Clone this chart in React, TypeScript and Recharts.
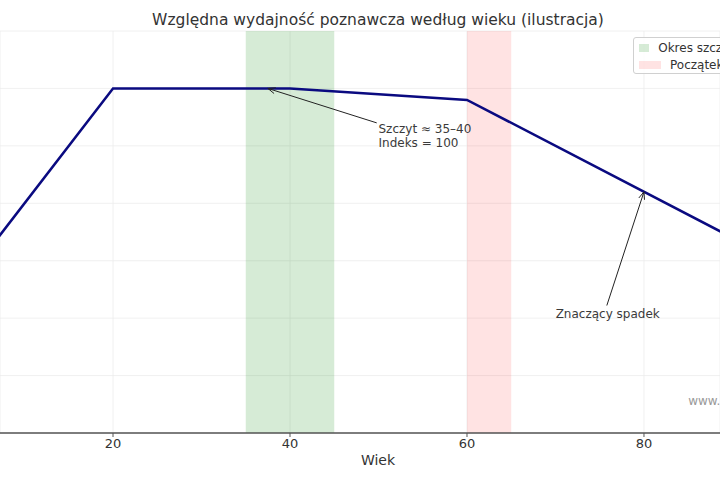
import {
  CartesianGrid,
  ComposedChart,
  Customized,
  Line,
  ReferenceArea,
  ReferenceDot,
  ReferenceLine,
  XAxis,
  YAxis,
} from "recharts";

// dane (wiek -> indeks wydajności)
const wiek = [0, 20, 40, 60, 90];
const indeks = [60, 100, 100, 98, 74];

const xTicks = [20, 40, 60, 80];
const yTicks = [40, 50, 60, 70, 80, 90, 100];

const okresSzczytu = [35, 45];
const poczatekSpadku = [60, 65];

const legendLabels = ["Okres szczytowej wydajności", "Początek spadku"];
const legendColors = ["rgba(0,128,0,0.16)", "rgba(255,0,0,0.11)"];

const data = wiek.map((w, i) => ({ wiek: w, indeks: indeks[i] }));

const FONT = "DejaVu Sans, sans-serif";

const arrowShape = (props: any) => {
  const { x1, y1, x2, y2 } = props;
  const a = Math.atan2(y2 - y1, x2 - x1);
  const len = 8;
  const spread = 0.38;
  const p1 = [x2 - len * Math.cos(a - spread), y2 - len * Math.sin(a - spread)];
  const p2 = [x2 - len * Math.cos(a + spread), y2 - len * Math.sin(a + spread)];
  return (
    <g>
      <line x1={x1} y1={y1} x2={x2} y2={y2} stroke="#222" strokeWidth={1} />
      <polyline
        points={`${p1[0]},${p1[1]} ${x2},${y2} ${p2[0]},${p2[1]}`}
        fill="none"
        stroke="#222"
        strokeWidth={1}
      />
    </g>
  );
};

const textShape = (lines: string[], anchor: "start" | "middle", color = "#3a3a3a", size = 12) =>
  (props: any) => (
    <text x={props.cx} y={props.cy} textAnchor={anchor} fill={color} fontSize={size} fontFamily={FONT}>
      {lines.map((l, i) => (
        <tspan key={i} x={props.cx} dy={i === 0 ? 0 : 13.5}>
          {l}
        </tspan>
      ))}
    </text>
  );

const Titles = () => (
  <g fontFamily={FONT}>
    <text x={378} y={25} textAnchor="middle" fontSize={15.5} fill="#333">
      Względna wydajność poznawcza według wieku (ilustracja)
    </text>
    <text x={378} y={465} textAnchor="middle" fontSize={14} fill="#333">
      Wiek
    </text>
  </g>
);

export default function App() {
  return (
    <div
      style={{
        position: "fixed",
        left: 0,
        top: 0,
        width: 720,
        height: 480,
        overflow: "hidden",
        background: "#fff",
        fontFamily: FONT,
      }}
    >
      <ComposedChart width={720} height={480} data={data} margin={{ top: 31, right: 0, left: 0, bottom: 0 }}>
        <CartesianGrid stroke="#ececec" strokeWidth={0.8} />
        <XAxis
          dataKey="wiek"
          type="number"
          domain={[7.23, 88.59]}
          allowDataOverflow
          ticks={xTicks}
          height={47}
          tickSize={4}
          tick={{ fontSize: 13, fill: "#333", fontFamily: FONT }}
          axisLine={{ stroke: "#555", strokeWidth: 1.5 }}
          tickLine={{ stroke: "#555" }}
        />
        <YAxis type="number" domain={[40, 110]} ticks={yTicks} allowDataOverflow hide />
        <ReferenceArea x1={okresSzczytu[0]} x2={okresSzczytu[1]} y1={40} y2={110} fill="green" fillOpacity={0.16} stroke="none" />
        <ReferenceArea x1={poczatekSpadku[0]} x2={poczatekSpadku[1]} y1={40} y2={110} fill="red" fillOpacity={0.11} stroke="none" />
        <Line
          dataKey="indeks"
          type="linear"
          stroke="#0a0a80"
          strokeWidth={2.5}
          dot={false}
          isAnimationActive={false}
        />
        <ReferenceLine segment={[{ x: 49.8, y: 94 }, { x: 37.5, y: 100 }]} shape={arrowShape} />
        <ReferenceLine segment={[{ x: 75.8, y: 62.2 }, { x: 80, y: 82 }]} shape={arrowShape} />
        <ReferenceDot x={50} y={92.2} shape={textShape(["Szczyt ≈ 35–40", "Indeks = 100"], "start")} />
        <ReferenceDot x={75.9} y={60} shape={textShape(["Znaczący spadek"], "middle")} />
        <ReferenceDot x={85} y={44.9} shape={textShape(["www.wydajnosc-wiek.pl"], "start", "#999", 12)} />
        <Customized component={Titles} />
      </ComposedChart>
      <div
        style={{
          position: "absolute",
          left: 633,
          top: 37,
          width: 200,
          height: 37,
          border: "1px solid #d0d0d0",
          borderRadius: 3,
          background: "rgba(255,255,255,0.85)",
          boxSizing: "border-box",
          padding: "1px 0 0 5px",
        }}
      >
        {legendLabels.map((l, i) => (
          <div key={l} style={{ display: "flex", alignItems: "center", height: 17, whiteSpace: "nowrap" }}>
            <span
              style={{
                display: "inline-block",
                width: 22,
                height: 8,
                background: legendColors[i],
                marginRight: 9,
              }}
            />
            <span style={{ fontSize: 12, color: "#333" }}>{l}</span>
          </div>
        ))}
      </div>
    </div>
  );
}
